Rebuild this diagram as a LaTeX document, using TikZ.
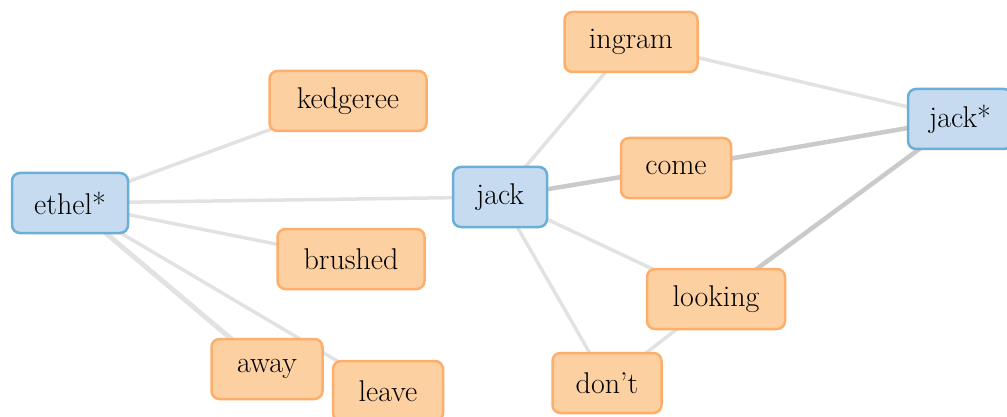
\documentclass[tikz,border=0pt]{standalone}
\usepackage{tikz}
\usetikzlibrary{backgrounds}
\definecolor{termblue}{HTML}{C6DBEF}
\definecolor{termline}{HTML}{6BAED6}
\definecolor{wordfill}{HTML}{FDD0A2}
\definecolor{wordline}{HTML}{FDAE6B}
\definecolor{linkgray}{HTML}{E2E2E2}
\definecolor{linkdark}{HTML}{CACACA}

\begin{document}
\begin{tikzpicture}[x=1pt, y=-1pt,
    box/.style={rounded corners=8pt, line width=2.5pt, minimum height=60pt,
                inner xsep=4pt, font=\fontsize{30}{34}\selectfont},
    term/.style={box, fill=termblue, draw=termline},
    word/.style={box, fill=wordfill, draw=wordline},
    link/.style={draw=linkgray, line width=3.5pt},
    strong/.style={draw=linkdark, line width=4.5pt}]
  \useasboundingbox (0,0) rectangle (1007,417);
  \clip (0,0) rectangle (1007,417);

  % query terms
  \node[term, minimum width=116pt] (ethel) at (70,203) {ethel*};
  \node[term, minimum width=94pt]  (jack)  at (500,197) {jack};
  \node[term, minimum width=104pt] (jackx) at (960,119) {jack*};

  % neighbouring words
  \node[word, minimum width=157pt] (kedgeree) at (348,101) {kedgeree};
  \node[word, minimum width=147pt] (brushed)  at (351,259) {brushed};
  \node[word, minimum width=111pt] (away)     at (267,369) {away};
  \node[word, minimum width=110pt] (leave)    at (388,391) {leave};
  \node[word, minimum width=133pt] (ingram)   at (631,42)  {ingram};
  \node[word, minimum width=110pt] (come)     at (676,168) {come};
  \node[word, minimum width=138pt] (looking)  at (716,299) {looking};
  \node[word, minimum width=109pt] (dont)     at (607,383) {don't};

  \begin{pgfonlayer}{background}
    \draw[link] (ethel.center) -- (kedgeree.center);
    \draw[link] (ethel.center) -- (jack.center);
    \draw[link] (ethel.center) -- (brushed.center);
    \draw[link, line width=5pt] (ethel.center) -- (away.center);
    \draw[link] (ethel.center) -- (leave.center);
    \draw[link] (jack.center) -- (ingram.center);
    \draw[strong] (jack.center) -- (come.center);
    \draw[link] (jack.center) -- (looking.center);
    \draw[link] (jack.center) -- (dont.center);
    \draw[link] (ingram.center) -- (jackx.center);
    \draw[strong] (come.center) -- (jackx.center);
    \draw[strong] (looking.center) -- (jackx.center);
    \draw[link] (looking.center) -- (dont.center);
  \end{pgfonlayer}
\end{tikzpicture}
\end{document}
